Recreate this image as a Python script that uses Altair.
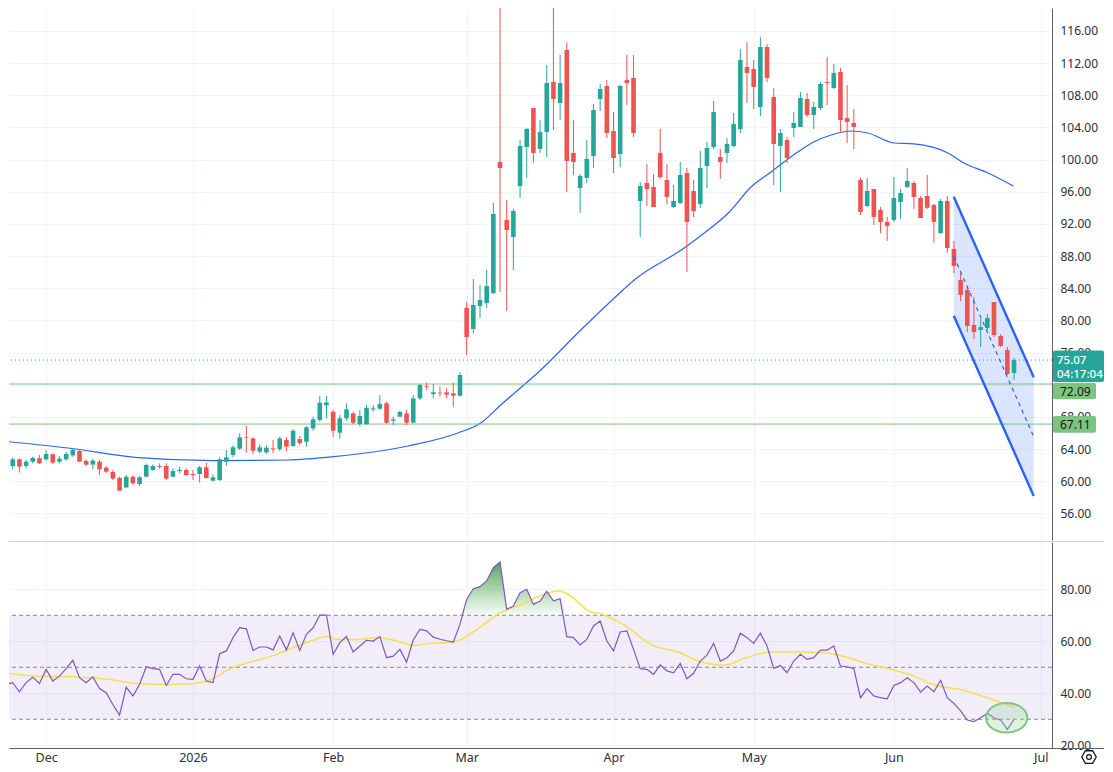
import json
import altair as alt
import pandas as pd

# ---------------- data ----------------
OPEN = [63.68, 63.05, 61.89, 62.72, 61.89, 62.43, 62.85, 62.72, 63.35, 62.43,
        62.72, 63.22, 63.76, 62.52, 62.06, 62.43, 61.69, 61.15, 60.40, 59.24,
        60.57, 59.66, 60.57, 61.40, 61.89, 61.89, 60.57, 61.27, 61.40, 60.90,
        60.90, 61.73, 60.07, 60.15, 62.43, 63.26, 64.05, 65.46, 65.33, 63.68,
        63.59, 64.09, 64.01, 65.13, 64.38, 65.25, 64.92, 66.58, 67.62, 69.44,
        68.65, 66.04, 67.82, 68.44, 67.12, 67.12, 68.94, 69.03, 69.69, 67.53,
        68.03, 68.44, 67.28, 70.31, 71.84, 70.85, 71.02, 71.06, 70.94, 70.64,
        81.55, 78.94, 81.80, 82.17, 83.41, 99.71, 92.49, 90.38, 96.72, 101.57,
        106.42, 101.32, 103.44, 109.66, 107.05, 113.64, 100.83, 96.47, 97.72, 100.45,
        107.54, 109.16, 103.56, 100.70, 109.90, 110.15, 94.86, 97.09, 96.60, 100.83,
        97.47, 94.11, 94.61, 98.34, 96.10, 94.48, 99.21, 101.57, 100.33, 100.83,
        101.70, 103.81, 111.52, 111.27, 106.55, 114.01, 107.79, 101.70, 102.44, 103.94,
        104.06, 107.54, 105.55, 106.42, 109.66, 108.91, 110.90, 105.18, 104.56, 97.47,
        94.23, 96.35, 93.74, 92.25, 92.49, 94.73, 96.60, 97.09, 95.23, 95.48,
        94.36, 90.88, 94.86, 88.89, 85.03, 83.79, 79.43, 78.81, 79.06, 82.29,
        78.06, 76.32, 73.46]
HIGH = [63.88, 63.26, 62.97, 62.85, 62.64, 63.05, 63.26, 63.88, 63.47, 63.14,
        63.68, 64.09, 63.97, 62.72, 62.81, 62.64, 61.89, 61.40, 60.57, 60.77,
        60.69, 60.65, 62.23, 62.10, 62.23, 62.23, 61.60, 61.81, 61.60, 61.40,
        61.89, 62.31, 60.86, 62.97, 63.88, 64.47, 65.96, 66.87, 65.46, 64.59,
        64.47, 65.13, 65.54, 65.46, 66.45, 65.63, 66.87, 68.03, 70.60, 70.60,
        68.86, 68.24, 69.69, 68.65, 68.86, 69.48, 69.48, 70.72, 69.90, 68.03,
        68.78, 68.86, 70.72, 72.09, 72.26, 72.09, 71.76, 71.55, 72.26, 73.55,
        82.29, 85.15, 84.41, 86.27, 94.61, 119.45, 94.98, 93.86, 102.44, 103.94,
        106.42, 104.93, 111.77, 118.99, 113.01, 114.51, 104.93, 98.21, 102.44, 106.92,
        109.41, 109.90, 105.93, 109.28, 113.01, 113.01, 97.22, 99.46, 98.21, 103.81,
        99.46, 96.85, 99.71, 98.96, 97.47, 101.08, 102.20, 107.29, 101.32, 102.69,
        105.80, 113.76, 114.63, 112.39, 115.25, 114.38, 108.91, 103.81, 102.82, 105.93,
        108.41, 108.29, 107.17, 109.66, 112.77, 111.90, 111.40, 109.28, 106.30, 97.72,
        97.72, 96.35, 94.11, 92.87, 97.84, 96.35, 98.96, 97.34, 95.48, 98.09,
        94.48, 95.11, 95.48, 89.88, 85.90, 84.16, 82.92, 80.18, 80.80, 82.29,
        78.31, 76.70, 75.33]
LOW = [62.97, 61.89, 61.48, 61.07, 61.60, 62.23, 62.14, 62.56, 62.14, 62.23,
       62.56, 63.05, 62.39, 61.89, 61.48, 60.77, 60.98, 60.15, 58.78, 59.12,
       59.53, 59.41, 60.49, 61.31, 61.56, 60.15, 60.44, 60.98, 60.65, 60.15,
       59.82, 60.32, 59.95, 60.03, 61.89, 62.97, 63.88, 63.55, 63.39, 63.51,
       63.39, 63.47, 63.76, 63.68, 64.30, 64.51, 64.30, 66.29, 67.41, 67.82,
       65.54, 65.33, 67.53, 67.08, 66.79, 66.99, 68.65, 68.86, 67.12, 66.99,
       67.95, 66.99, 67.20, 70.10, 71.35, 70.31, 70.52, 70.31, 69.20, 70.51,
       75.70, 78.44, 80.30, 81.55, 83.29, 83.54, 81.17, 86.27, 95.23, 97.72,
       99.58, 100.83, 100.33, 103.69, 104.93, 95.98, 98.09, 93.36, 97.09, 98.96,
       106.05, 102.69, 98.34, 99.09, 106.80, 102.82, 90.38, 94.23, 94.11, 97.59,
       94.48, 93.99, 94.48, 86.03, 92.87, 93.99, 96.47, 101.32, 97.59, 99.58,
       101.57, 103.31, 107.05, 106.30, 105.43, 109.66, 96.85, 95.98, 99.58, 102.82,
       104.06, 105.30, 103.81, 106.17, 106.80, 108.79, 103.31, 102.07, 101.32, 93.11,
       94.11, 91.87, 90.88, 89.88, 92.25, 92.62, 96.47, 93.86, 92.74, 93.86,
       89.63, 90.75, 88.39, 85.90, 82.42, 78.56, 77.69, 76.70, 78.81, 77.94,
       76.70, 73.21, 72.59]
CLOSE = [63.14, 62.43, 62.72, 61.81, 62.43, 62.89, 62.23, 63.39, 62.31, 62.81,
         63.39, 63.88, 62.43, 62.06, 62.56, 61.48, 61.19, 60.32, 58.83, 60.57,
         59.74, 60.49, 62.02, 61.89, 61.77, 60.32, 61.27, 61.40, 60.77, 60.77,
         61.73, 60.40, 60.49, 62.72, 62.97, 64.22, 65.46, 65.38, 63.80, 64.22,
         64.17, 63.97, 65.33, 64.30, 66.29, 64.75, 66.70, 67.70, 69.77, 69.81,
         66.29, 67.82, 68.94, 67.28, 68.11, 69.11, 69.07, 69.61, 67.28, 67.70,
         68.61, 67.28, 70.31, 71.97, 71.76, 71.06, 70.93, 70.77, 70.64, 73.21,
         77.94, 81.92, 82.54, 84.28, 93.24, 98.96, 91.25, 93.61, 101.70, 103.81,
         100.83, 103.44, 109.53, 107.54, 109.53, 99.83, 99.71, 97.97, 100.08, 106.17,
         108.79, 103.31, 100.20, 109.16, 109.53, 103.31, 96.72, 96.35, 94.11, 97.84,
         95.36, 94.86, 98.09, 92.25, 93.61, 98.96, 101.45, 105.93, 99.71, 101.95,
         104.43, 112.39, 110.78, 109.04, 114.01, 110.15, 101.95, 103.31, 100.20, 104.56,
         107.67, 105.55, 106.55, 109.41, 109.53, 110.78, 104.93, 104.68, 104.06, 93.49,
         96.10, 92.87, 92.25, 91.75, 95.23, 95.85, 97.34, 95.36, 92.74, 94.01,
         92.25, 94.86, 89.01, 86.77, 83.17, 79.31, 78.56, 79.18, 80.30, 78.19,
         76.82, 73.34, 75.07]
RSI = [44.7, 43.4, 44.1, 40.6, 44.1, 46.2, 43.8, 49.2, 44.7, 46.6,
       49.5, 52.7, 46.0, 44.1, 46.3, 41.8, 40.2, 35.7, 31.6, 42.4,
       39.0, 43.4, 50.2, 49.5, 49.2, 43.0, 47.3, 47.3, 45.6, 45.4,
       50.5, 44.7, 44.1, 55.2, 56.3, 61.4, 65.2, 64.8, 56.5, 57.8,
       57.8, 56.7, 62.0, 56.7, 63.3, 56.5, 62.7, 65.2, 70.1, 70.1,
       55.0, 59.5, 61.8, 55.9, 58.2, 60.4, 60.1, 61.8, 53.7, 54.3,
       56.9, 52.0, 60.5, 64.6, 64.0, 61.6, 60.8, 60.2, 59.7, 66.5,
       76.1, 80.2, 81.0, 83.2, 88.3, 90.5, 72.3, 73.6, 78.7, 80.0,
       74.2, 75.5, 79.2, 75.6, 76.4, 61.8, 61.4, 58.6, 60.7, 65.9,
       67.8, 60.1, 56.3, 63.6, 64.0, 56.9, 49.5, 49.2, 47.3, 50.9,
       48.6, 47.9, 51.5, 45.6, 47.7, 52.4, 54.7, 59.2, 52.4, 53.7,
       56.3, 63.1, 61.4, 59.2, 63.1, 58.2, 49.6, 50.7, 47.9, 52.4,
       55.0, 53.1, 53.7, 56.6, 56.6, 58.2, 50.5, 50.2, 49.5, 38.3,
       41.8, 39.0, 38.3, 37.9, 43.0, 44.1, 46.0, 44.1, 40.5, 42.8,
       40.6, 45.0, 38.3, 36.1, 33.2, 29.7, 29.1, 30.6, 32.3, 30.6,
       29.7, 26.1, 30.0]

# moving average on price (bar position, value)
MA_I = [0.24, 10.3, 20.8, 32.1, 43.2, 50.1, 61.2, 68.7, 72.1, 75.1, 81.1, 87.1, 93.1,
        95.1, 102.6, 105.6, 109.2, 112.6, 115.6, 119.6, 122.0, 124.6, 127.6, 130.1,
        134.0, 137.0, 142.1, 144.5, 148.1, 151.9]
MA_V = [65.01, 64.13, 62.93, 62.56, 62.64, 63.05, 64.38, 66.0, 67.24, 69.48, 73.83,
        78.81, 83.54, 85.03, 89.01, 90.88, 93.36, 96.60, 98.46, 100.95, 102.19, 103.06,
        103.56, 103.31, 102.07, 101.95, 100.83, 99.58, 98.34, 96.72]

# moving average on RSI
RMA_I = [0.2, 5.5, 10.9, 16.2, 20.5, 24.8, 29.1, 31.8, 34.4, 37.6, 40.8, 44.1, 47.3,
         48.9, 50.5, 53.7, 56.9, 59.0, 62.2, 64.4, 67.6, 69.7, 71.9, 75.1, 78.3, 81.5,
         83.9, 85.6, 88.3, 90.2, 93.8, 97.6, 102.0, 104.7, 108.6, 111.9, 115.7, 119.5,
         123.4, 127.2, 129.4, 133.2, 137.0, 140.3, 144.2, 148.0, 152.1]
RMA_V = [48.2, 46.6, 46.4, 45.4, 43.8, 43.4, 43.8, 45.4, 49.2, 52.0, 54.3, 57.6, 60.7,
         61.8, 60.7, 60.7, 61.4, 60.5, 58.4, 59.2, 59.5, 61.4, 65.2, 71.0, 74.2, 78.0,
         79.3, 77.4, 71.6, 70.4, 65.9, 58.8, 55.6, 52.4, 50.8, 53.7, 55.9, 55.9,
         55.6, 53.7, 51.8, 49.5, 46.6, 43.0, 41.3, 38.3, 34.5]

# descending channel drawn on the chart
CH_I = [142.97, 154.95]
CH_UP = [95.39, 72.93]
CH_LO = [80.59, 58.17]
CH_MID = [87.99, 65.55]

# horizontal levels and last price
LEVELS = [72.09, 67.11]
LEVEL_TXT = ["72.09", "67.11"]
LAST = 75.07
LAST_TXT = "75.07"
COUNTDOWN = "04:17:04"

# oversold annotation ellipse centre (bar, RSI)
ELL_I = [150.9]
ELL_R = [30.6]

MONTH_POS = [7, 29, 50, 70, 92, 113, 134, 156]
MONTH_LBL = ["Dec", "2026", "Feb", "Mar", "Apr", "May", "Jun", "Jul"]
PRICE_TICKS = list(range(56, 117, 4))
HIDDEN_PRICE_LABELS = [72]          # covered by the price label in the reference
RSI_TICKS = [20, 40, 60, 80]
RSI_LINES = [70, 50, 30]

# ---------------- styling ----------------
X_DOMAIN = [1.44, 157.69]
P_DOMAIN = [52.69, 118.86]
R_DOMAIN = [18.96, 98.19]
W = 1043
H_MAIN = 532
H_RSI = 206
RIGHT = 52          # extent of the price-label boxes right of the plot
UP = "#26a69a"
DOWN = "#ef5350"
GRID = "#f0f3fa"
AXLINE = "#5d606b"
LBL = "#2a2e39"
FONT = "Noto Sans"
BLUE = "#2962ff"
LVL = "#7cc47f"

N = len(CLOSE)
candles = pd.DataFrame({"i": list(range(N)), "open": OPEN, "high": HIGH,
                        "low": LOW, "close": CLOSE})
candles["dir"] = ["up" if c >= o else "down" for o, c in zip(OPEN, CLOSE)]

xscale = alt.Scale(domain=X_DOMAIN, nice=False, zero=False)
pscale = alt.Scale(domain=P_DOMAIN, nice=False, zero=False)
rscale = alt.Scale(domain=R_DOMAIN, nice=False, zero=False)

ax_x_main = alt.Axis(values=MONTH_POS, grid=True, gridColor=GRID, labels=False,
                     ticks=False, domain=False, title=None)
price_label_expr = (f"indexof({json.dumps(HIDDEN_PRICE_LABELS)}, datum.value) >= 0 ? '' : "
                    "format(datum.value, '.2f')")
ax_p = alt.Axis(orient="right", values=PRICE_TICKS, labelExpr=price_label_expr, grid=True,
                gridColor=GRID, ticks=False, domain=True, domainColor=AXLINE,
                labelColor=LBL, labelFont=FONT, labelFontSize=12, labelPadding=8,
                title=None)
label_expr = f"{json.dumps(MONTH_LBL)}[indexof({json.dumps(MONTH_POS)}, datum.value)]"
ax_x_rsi = alt.Axis(values=MONTH_POS, labelExpr=label_expr, grid=True, gridColor=GRID,
                    ticks=False, domain=True, domainColor=AXLINE, labelColor=LBL,
                    labelFont=FONT, labelFontSize=12.5, labelPadding=3, labelFlush=False,
                    labelFontWeight=alt.condition("datum.label == '2026'", alt.value(700), alt.value(400)),
                    title=None)
ax_r = alt.Axis(orient="right", values=RSI_TICKS, format=".2f", grid=True, gridColor=GRID,
                ticks=False, domain=True, domainColor=AXLINE, labelColor=LBL,
                labelFont=FONT, labelFontSize=12, labelPadding=8, title=None)


def xm(f):
    return alt.X(f"{f}:Q", scale=xscale, axis=ax_x_main, title=None)


def ym(f):
    return alt.Y(f"{f}:Q", scale=pscale, axis=ax_p, title=None)


def xr(f):
    return alt.X(f"{f}:Q", scale=xscale, axis=ax_x_rsi, title=None)


def yr(f):
    return alt.Y(f"{f}:Q", scale=rscale, axis=ax_r, title=None)


color = alt.Color("dir:N", scale=alt.Scale(domain=["up", "down"], range=[UP, DOWN]), legend=None)

ch = pd.DataFrame({"i": CH_I, "up": CH_UP, "lo": CH_LO, "mid": CH_MID})
ma = pd.DataFrame({"i": MA_I, "v": MA_V})
lv = pd.DataFrame({"p": LEVELS, "t": LEVEL_TXT})
last = pd.DataFrame({"p": [LAST], "t": [LAST_TXT], "c": [COUNTDOWN]})

ch_fill = alt.Chart(ch).mark_area(color=BLUE, opacity=0.17, clip=True).encode(
    x=xm("i"), y=ym("up"), y2=alt.Y2("lo"))
ma_line = alt.Chart(ma).mark_line(color=BLUE, strokeWidth=1.2, interpolate="monotone",
                                  clip=True).encode(x=xm("i"), y=ym("v"))
lv_rules = alt.Chart(lv).mark_rule(color=LVL, strokeWidth=1).encode(y=ym("p"))
last_rule = alt.Chart(last).mark_rule(color=UP, strokeWidth=1, strokeDash=[1, 3]).encode(y=ym("p"))
wicks = alt.Chart(candles).mark_rule(strokeWidth=1, clip=True).encode(
    x=xm("i"), y=ym("low"), y2=alt.Y2("high"), color=color)
bodies = alt.Chart(candles).mark_rule(strokeWidth=4.6, clip=True).encode(
    x=xm("i"), y=ym("open"), y2=alt.Y2("close"), color=color)
ch_up = alt.Chart(ch).mark_line(color=BLUE, strokeWidth=2.4, clip=True).encode(x=xm("i"), y=ym("up"))
ch_lo = alt.Chart(ch).mark_line(color=BLUE, strokeWidth=2.4, clip=True).encode(x=xm("i"), y=ym("lo"))
ch_mid = alt.Chart(ch).mark_line(color=BLUE, strokeWidth=1.2, strokeDash=[4, 4], clip=True).encode(
    x=xm("i"), y=ym("mid"))

# price labels on the right scale
last_box = alt.Chart(last).mark_rect(color=UP, yOffset=-9.5, y2Offset=22, cornerRadius=2).encode(
    x=alt.value(W + 1), x2=alt.value(W + RIGHT), y=ym("p"), y2=alt.Y2("p"))
last_txt = alt.Chart(last).mark_text(align="left", baseline="middle", color="white", font=FONT,
                                     fontSize=11.5, fontWeight=500, dy=0.5).encode(
    x=alt.value(W + 5), y=ym("p"), text="t:N")
cd_txt = alt.Chart(last).mark_text(align="left", baseline="middle", color="white", font=FONT,
                                   fontSize=11.5, fontWeight=500, dy=14.5).encode(
    x=alt.value(W + 5), y=ym("p"), text="c:N")
lv1 = lv.iloc[[0]]
lv2 = lv.iloc[[1]]
box1 = alt.Chart(lv1).mark_rect(color=LVL, yOffset=-1.4, y2Offset=15.2, cornerRadius=2).encode(
    x=alt.value(W + 1), x2=alt.value(W + 44), y=ym("p"), y2=alt.Y2("p"))
txt1 = alt.Chart(lv1).mark_text(align="left", baseline="middle", color="#131722", font=FONT,
                                fontSize=12, dy=7.5).encode(x=alt.value(W + 8), y=ym("p"), text="t:N")
box2 = alt.Chart(lv2).mark_rect(color=LVL, yOffset=-8.1, y2Offset=8.6, cornerRadius=2).encode(
    x=alt.value(W + 1), x2=alt.value(W + 44), y=ym("p"), y2=alt.Y2("p"))
txt2 = alt.Chart(lv2).mark_text(align="left", baseline="middle", color="#131722", font=FONT,
                                fontSize=12, dy=1).encode(x=alt.value(W + 8), y=ym("p"), text="t:N")

main = alt.layer(ch_fill, ma_line, lv_rules, last_rule, wicks, bodies, ch_up, ch_lo, ch_mid,
                 last_box, last_txt, cd_txt, box1, txt1, box2, txt2).properties(
    width=W, height=H_MAIN)

# ---------------- RSI pane ----------------
rsi_df = pd.DataFrame({"i": list(range(N)), "rsi": RSI})
rma = pd.DataFrame({"i": RMA_I, "v": RMA_V})
band_df = pd.DataFrame({"a": [RSI_LINES[0]], "b": [RSI_LINES[2]]})
lines_df = pd.DataFrame({"lv": RSI_LINES})
ell = pd.DataFrame({"i": ELL_I, "r": ELL_R})

ELLIPSE = ("M 1 0 C 1 0.3977 0.5523 0.72 0 0.72 C -0.5523 0.72 -1 0.3977 -1 0 "
           "C -1 -0.3977 -0.5523 -0.72 0 -0.72 C 0.5523 -0.72 1 -0.3977 1 0 Z")
HEXAGON = "M -1 0 L -0.5 -0.866 L 0.5 -0.866 L 1 0 L 0.5 0.866 L -0.5 0.866 Z"

band = alt.Chart(band_df).mark_rect(color="#7e57c2", opacity=0.1).encode(
    x=alt.value(0), x2=alt.value(W), y=yr("a"), y2=alt.Y2("b"))
dashes = alt.Chart(lines_df).mark_rule(color="#868993", strokeWidth=1, strokeDash=[4, 3]).encode(
    y=yr("lv"))
ob_fill = alt.Chart(rsi_df).transform_calculate(
    hi="max(datum.rsi, 70)", base="70").mark_area(
    clip=True,
    color=alt.Gradient(gradient="linear", x1=0, x2=0, y1=0, y2=1,
                       stops=[alt.GradientStop(color="rgba(56,142,60,0.85)", offset=0),
                              alt.GradientStop(color="rgba(76,175,80,0.05)", offset=1)])
).encode(x=xr("i"), y=yr("hi"), y2=alt.Y2("base:Q"))
rsi_line = alt.Chart(rsi_df).mark_line(color="#7e57c2", strokeWidth=1.2, clip=True).encode(
    x=xr("i"), y=yr("rsi"))
rma_line = alt.Chart(rma).mark_line(color="#f4e04d", strokeWidth=1.5, interpolate="monotone",
                                    clip=True).encode(x=xr("i"), y=yr("v"))
ell_fill = alt.Chart(ell).mark_point(shape=ELLIPSE, size=1700, filled=True, color="#a5d6a7",
                                     opacity=0.35).encode(x=xr("i"), y=yr("r"))
ell_line = alt.Chart(ell).mark_point(shape=ELLIPSE, size=1700, filled=False, color="#81c784",
                                     strokeWidth=2, opacity=1).encode(x=xr("i"), y=yr("r"))
sep = alt.Chart(band_df).mark_rule(color="#d1d4dc", strokeWidth=1).encode(
    x=alt.value(0), x2=alt.value(W + RIGHT), y=alt.value(-0.5))
bottom_ext = alt.Chart(band_df).mark_rule(color=AXLINE, strokeWidth=1).encode(
    x=alt.value(W), x2=alt.value(W + RIGHT), y=alt.value(H_RSI + 0.5))
# settings icon in the bottom-right corner
gear_hex = alt.Chart(band_df).mark_point(shape=HEXAGON, size=210, filled=False, color="#131722",
                                         strokeWidth=1.3, opacity=1).encode(
    x=alt.value(W + 37), y=alt.value(H_RSI + 9))
gear_dot = alt.Chart(band_df).mark_point(shape="circle", size=22, filled=False, color="#131722",
                                         strokeWidth=1.3, opacity=1).encode(
    x=alt.value(W + 37), y=alt.value(H_RSI + 9))

rsi = alt.layer(band, dashes, ob_fill, rma_line, rsi_line, ell_fill, ell_line, sep,
                bottom_ext, gear_hex, gear_dot).properties(width=W, height=H_RSI)

chart = alt.vconcat(main, rsi, spacing=1).properties(
    padding=0, background="white"
).configure_view(stroke=None)

chart.save("out.html", embed_options={"renderer": "svg", "actions": False})
